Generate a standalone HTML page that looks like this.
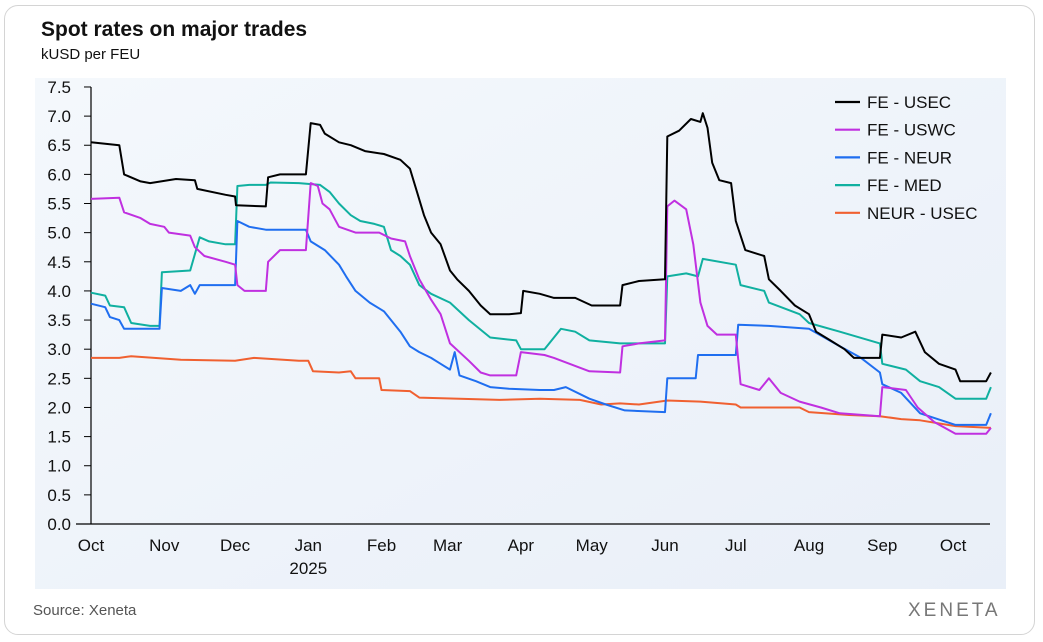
<!DOCTYPE html>
<html><head><meta charset="utf-8"><style>
body{margin:0;background:#fff;font-family:"Liberation Sans",sans-serif;}
#card{position:absolute;left:4px;top:5px;width:1029px;height:628px;border:1.5px solid #d4d4d4;border-radius:14px;background:#fff;}
.t{position:absolute;}
</style></head><body>
<div id="card"></div>
<div class="t" style="left:41px;top:18px;font-size:21px;font-weight:bold;color:#111;">Spot rates on major trades</div>
<div class="t" style="left:41px;top:46px;font-size:15px;color:#111;">kUSD per FEU</div>
<div class="t" style="left:33px;top:602px;font-size:15px;color:#555;">Source: Xeneta</div>
<div class="t" style="left:908px;top:600px;font-size:19px;color:#777;letter-spacing:3px;">XENETA</div>
<svg id="chart" width="1043" height="642" style="position:absolute;left:0;top:0">
<defs><linearGradient id="bg" x1="0" y1="0" x2="1" y2="1"><stop offset="0" stop-color="#f4f8fc"/><stop offset="1" stop-color="#e9eff8"/></linearGradient></defs>
<rect x="35" y="78" width="971" height="511" fill="url(#bg)"/>
<g id="axes"></g><g id="lines"></g><g id="legend"></g>
</svg>
<script>
const yTicks=[0,0.5,1,1.5,2,2.5,3,3.5,4,4.5,5,5.5,6,6.5,7,7.5];
const monthLabels=["Oct","Nov","Dec","Jan","Feb","Mar","Apr","May","Jun","Jul","Aug","Sep","Oct"];
const monthDays=[0,31,61,92,123,151,182,212,243,273,304,335,365];
const seriesNames=["FE - USEC","FE - USWC","FE - NEUR","FE - MED","NEUR - USEC"];
const seriesColors=["#000000","#c030e0","#1f6ef0","#10b0a0","#f06030"];
const usecDays=[0,12,14,21,25,36,44,45,57,61,61.4,74,75,80,91,93,97,99,105,110,116,124,131,135,138,141,144,148,152,155,160,165,169,177,182,183,190,196,205,212,224,225,232,243,244,249,254,258,259,261,263,266,271,273,277,285,287,292,298,304,307,313,319,323,334,335,343,349,353,359,366,368,379,381];
const usecVals=[6.55,6.5,6.0,5.88,5.85,5.92,5.9,5.75,5.65,5.62,5.47,5.45,5.95,6.0,6.0,6.88,6.85,6.7,6.55,6.5,6.4,6.35,6.25,6.1,5.7,5.3,5.0,4.8,4.35,4.2,4.0,3.75,3.6,3.6,3.62,4.0,3.95,3.88,3.88,3.75,3.75,4.1,4.17,4.2,6.65,6.75,6.95,6.9,7.05,6.8,6.2,5.9,5.85,5.2,4.7,4.6,4.2,4.0,3.75,3.6,3.3,3.15,3.0,2.85,2.85,3.25,3.2,3.3,2.95,2.75,2.65,2.45,2.45,2.6];
const uswcDays=[0,12,14,21,25,31,33,42,44,48,57,61,62,65,74,75,80,91,93,96,98,101,105,112,122,127,133,135,139,144,148,152,160,165,169,180,182,192,196,211,224,225,232,243,244,247,252,255,258,261,265,273,275,283,287,292,300,309,317,334,335,345,350,357,366,379,381];
const uswcVals=[5.58,5.6,5.35,5.25,5.15,5.1,5.0,4.95,4.75,4.6,4.5,4.45,4.1,4.0,4.0,4.5,4.7,4.7,5.85,5.8,5.5,5.4,5.1,5.0,5.0,4.9,4.85,4.6,4.2,3.85,3.6,3.1,2.8,2.6,2.55,2.55,2.95,2.9,2.85,2.62,2.6,3.05,3.1,3.15,5.45,5.55,5.4,4.8,3.8,3.4,3.25,3.25,2.4,2.3,2.5,2.25,2.1,2.0,1.9,1.85,2.35,2.3,2.0,1.75,1.55,1.55,1.65];
const neurDays=[0,6,8,12,14,29,30,38,42,44,46,57,61,62,67,74,80,91,93,99,105,108,112,118,124,131,135,139,144,148,152,154,156,163,169,177,190,196,201,211,218,226,243,244,256,257,273,274,287,304,317,326,334,335,343,351,366,379,381];
const neurVals=[3.78,3.72,3.55,3.5,3.35,3.35,4.05,4.0,4.1,3.95,4.1,4.1,4.1,5.2,5.1,5.05,5.05,5.05,4.85,4.7,4.45,4.25,4.0,3.8,3.65,3.3,3.05,2.95,2.85,2.75,2.65,2.95,2.55,2.45,2.35,2.32,2.3,2.3,2.35,2.15,2.05,1.95,1.92,2.5,2.5,2.9,2.9,3.42,3.4,3.35,3.05,2.85,2.6,2.4,2.25,1.9,1.7,1.7,1.9];
const medDays=[0,6,8,14,17,25,29,30,42,46,50,57,61,62,67,74,76,88,97,101,105,110,114,120,124,127,131,135,139,144,152,160,169,180,182,192,199,205,211,224,243,244,252,257,259,273,275,285,287,300,304,317,334,335,345,351,359,366,379,381];
const medVals=[3.97,3.92,3.75,3.72,3.45,3.4,3.4,4.32,4.35,4.92,4.85,4.8,4.8,5.8,5.82,5.82,5.86,5.85,5.82,5.7,5.5,5.3,5.2,5.15,5.1,4.7,4.6,4.45,4.1,3.95,3.8,3.5,3.2,3.15,3.0,3.0,3.35,3.3,3.15,3.1,3.1,4.25,4.3,4.25,4.55,4.45,4.1,4.0,3.8,3.6,3.45,3.3,3.1,2.75,2.65,2.45,2.35,2.15,2.15,2.35];
const nuDays=[0,12,17,38,61,69,88,92,94,105,110,112,122,123,135,139,156,173,190,207,216,224,232,244,258,273,275,300,304,321,334,343,351,366,381];
const nuVals=[2.85,2.85,2.88,2.82,2.8,2.85,2.8,2.8,2.62,2.6,2.62,2.5,2.5,2.3,2.28,2.17,2.15,2.13,2.15,2.13,2.05,2.07,2.05,2.12,2.1,2.05,2.0,2.0,1.92,1.87,1.85,1.8,1.78,1.68,1.65];
const allDays=[usecDays,uswcDays,neurDays,medDays,nuDays];
const allVals=[usecVals,uswcVals,neurVals,medVals,nuVals];

const NS="http://www.w3.org/2000/svg";
const xS=d=>91+d*2.362;
const yS=v=>524-v*58.27;
function mk(tag,attrs,parent){const e=document.createElementNS(NS,tag);for(const k in attrs)e.setAttribute(k,attrs[k]);parent.appendChild(e);return e;}
const axes=document.getElementById('axes');
let yl=mk('line',{x1:91,y1:yS(7.5),x2:91,y2:524,stroke:'#000','stroke-width':1.2},axes);


let xl=mk('line',{x1:76,y1:524,x2:990,y2:524,stroke:'#000','stroke-width':1.2},axes);


yTicks.forEach(v=>{
  const tk=mk('line',{x1:84,y1:yS(v),x2:91,y2:yS(v),stroke:'#000','stroke-width':1},axes);
  
  
  const t=mk('text',{x:71,y:yS(v)+6,'text-anchor':'end','font-size':17,fill:'#111','font-family':'Liberation Sans'},axes);
  t.textContent=v.toFixed(1);
  
  
});
monthLabels.forEach((m,i)=>{
  const t=mk('text',{x:xS(monthDays[i]),y:551,'text-anchor':'middle','font-size':17,fill:'#111','font-family':'Liberation Sans'},axes);
  t.textContent=m;
  
  
});
const yr=mk('text',{x:xS(92),y:574,'text-anchor':'middle','font-size':17,fill:'#111','font-family':'Liberation Sans'},axes);
yr.textContent='2025';


const lines=document.getElementById('lines');
const order=[4,3,2,1,0];
order.forEach(i=>{
  const pts=allDays[i].map((d,j)=>xS(d).toFixed(1)+','+yS(allVals[i][j]).toFixed(1)).join(' ');
  const p=mk('polyline',{points:pts,fill:'none',stroke:seriesColors[i],'stroke-width':2,'stroke-linejoin':'round'},lines);
  
  
});
const lg=document.getElementById('legend');
seriesNames.forEach((n,i)=>{
  const y=102+i*27.7;
  const l=mk('line',{x1:835,y1:y,x2:860,y2:y,stroke:seriesColors[i],'stroke-width':2.2},lg);
  
  
  const t=mk('text',{x:867,y:y+6,'font-size':17,fill:'#111','font-family':'Liberation Sans'},lg);
  t.textContent=n;
  
  
});
</script>
</body></html>
